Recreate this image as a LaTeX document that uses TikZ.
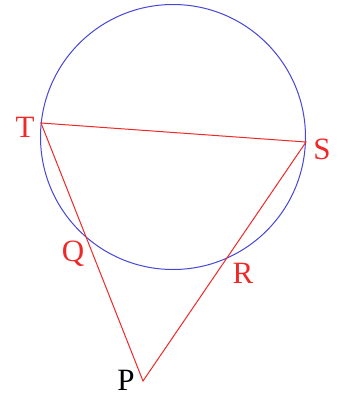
\documentclass[tikz,border=0pt]{standalone}
\usepackage{fontspec}
\setmainfont{Liberation Serif}
\usetikzlibrary{calc}
\definecolor{cblue}{RGB}{70,70,215}
\definecolor{lred}{RGB}{240,40,40}
\tikzset{
  lbl/.style={font=\fontsize{31}{34}\selectfont, inner sep=0pt, text=lred},
  seg/.style={draw=lred, line width=1pt},
  circ/.style={draw=cblue, line width=1pt}
}
\begin{document}
\begin{tikzpicture}[x=1pt,y=-1pt]
\useasboundingbox (0,0) rectangle (341,397);
\coordinate (O) at (173,137);
\draw[circ] (O) circle[radius=132.5];
\coordinate (T) at (41,123);
\coordinate (S) at (306,142);
\coordinate (P) at (143,381);
\coordinate (Q) at ($(T)!0.434!(P)$);
\coordinate (R) at ($(S)!0.479!(P)$);
\draw[seg] (T) -- (S) -- (P) -- cycle;
\node[lbl] (tT) at (25,127) {T};
\node[lbl] (tS) at (322,149) {S};
\node[lbl] (tQ) at (73,254) {Q};
\node[lbl] (tR) at (243,273) {R};
\node[lbl, text=black] (tP) at (126,380) {P};
\end{tikzpicture}
\end{document}
